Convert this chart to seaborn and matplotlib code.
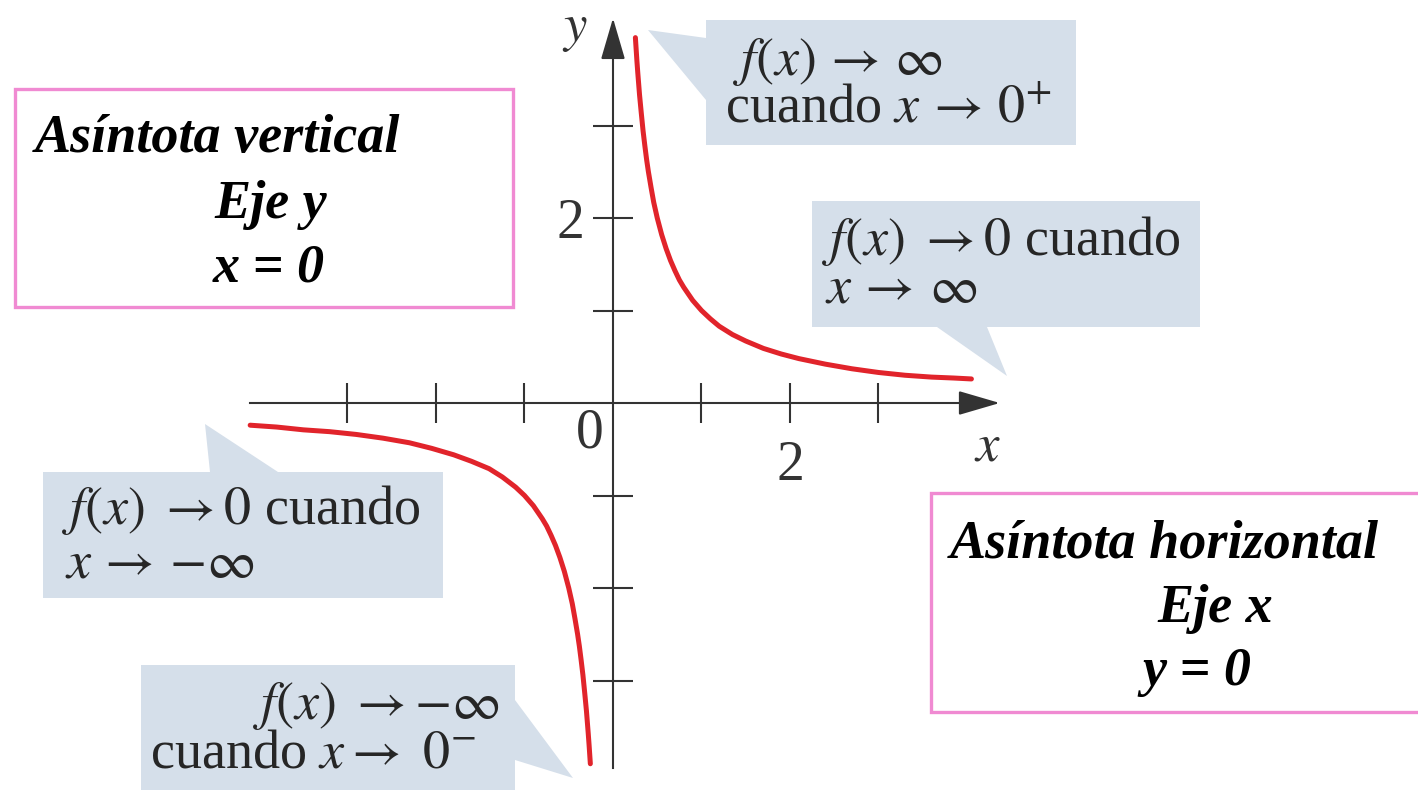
import matplotlib
matplotlib.use("Agg")
import matplotlib.pyplot as plt
import matplotlib.patches as mpatches
import matplotlib.transforms as mtransforms
import seaborn as sns

sns.set_theme(style="white")
plt.rcParams["font.family"] = ["Liberation Serif", "DejaVu Serif"]
plt.rcParams["mathtext.fontset"] = "stix"

# f(x) = 1/x
x_right = [0.253, 0.27, 0.28, 0.29, 0.30, 0.32, 0.34, 0.36, 0.38, 0.40, 0.43, 0.46,
           0.50, 0.55, 0.60, 0.65, 0.70, 0.75, 0.80, 0.90, 1.00, 1.10, 1.20, 1.35,
           1.50, 1.70, 1.90, 2.10, 2.40, 2.70, 3.00, 3.30, 3.60, 3.85, 4.05]
y_right = [3.95, 3.70, 3.57, 3.45, 3.33, 3.13, 2.94, 2.78, 2.63, 2.50, 2.33, 2.17,
           2.00, 1.82, 1.67, 1.54, 1.43, 1.33, 1.25, 1.11, 1.00, 0.91, 0.83, 0.74,
           0.67, 0.59, 0.53, 0.48, 0.42, 0.37, 0.33, 0.30, 0.28, 0.27, 0.26]
x_left = [-4.10, -3.80, -3.50, -3.20, -2.90, -2.60, -2.30, -2.05, -1.80, -1.60,
          -1.40, -1.25, -1.10, -1.00, -0.90, -0.80, -0.75, -0.70, -0.65, -0.60,
          -0.55, -0.50, -0.46, -0.43, -0.40, -0.38, -0.36, -0.34, -0.32, -0.30,
          -0.29, -0.28, -0.27, -0.256]
y_left = [-0.24, -0.26, -0.29, -0.31, -0.34, -0.38, -0.43, -0.49, -0.56, -0.63,
          -0.71, -0.80, -0.91, -1.00, -1.11, -1.25, -1.33, -1.43, -1.54, -1.67,
          -1.82, -2.00, -2.17, -2.33, -2.50, -2.63, -2.78, -2.94, -3.13, -3.33,
          -3.45, -3.57, -3.70, -3.90]

ticks = [-3, -2, -1, 1, 2, 3]
tick_labels = ["", "", "", "", "2", ""]

W, H = 1418, 790
fig = plt.figure(figsize=(W / 100, H / 100), dpi=100)
ax = fig.add_axes([0, 0, 1, 1])

# pixel -> data mapping: origin at (613, 403), 88.5 px per x unit, 92.5 px per y unit
ox, oy, ux, uy = 613, 403, 88.5, 92.5
ax.set_xlim(-ox / ux, (W - ox) / ux)
ax.set_ylim(-(H - oy) / uy, oy / uy)

red = "#e1242b"
sns.lineplot(x=x_right, y=y_right, sort=False, estimator=None, color=red, lw=3.6, ax=ax)
sns.lineplot(x=x_left, y=y_left, sort=False, estimator=None, color=red, lw=3.6, ax=ax)

# axes through the origin
axc = "#333333"
for side in ["top", "right"]:
    ax.spines[side].set_visible(False)
ax.spines["bottom"].set_position(("data", 0))
ax.spines["left"].set_position(("data", 0))
ax.spines["bottom"].set_bounds(-4.1, 4.2)
ax.spines["left"].set_bounds(-3.95, 4.0)
for side in ["bottom", "left"]:
    ax.spines[side].set_color(axc)
    ax.spines[side].set_linewidth(1.5)
ax.set_xticks(ticks, labels=tick_labels)
ax.set_yticks(ticks, labels=tick_labels)
ax.tick_params(bottom=True, left=True, direction="inout", length=29, width=1.5,
               color=axc, labelsize=40, labelcolor=axc)
ax.tick_params(axis="x", pad=12)
ax.tick_params(axis="y", pad=6)
ax.set_xlabel("")
ax.set_ylabel("")

arrow = dict(arrowstyle="-|>,head_length=1.3,head_width=0.38", color=axc, lw=1.5,
             shrinkA=0, shrinkB=0, mutation_scale=20)
ax.annotate("", xy=(4.37, 0), xytext=(4.0, 0), arrowprops=arrow)
ax.annotate("", xy=(0, 4.16), xytext=(0, 3.8), arrowprops=arrow)

ax.text(-0.26, -0.33, "0", fontsize=40, color=axc, ha="center", va="center")
ax.text(-0.43, 4.03, "$y$", fontsize=38, color=axc, ha="center", va="center")
ax.text(4.23, -0.48, "$x$", fontsize=38, color=axc, ha="center", va="center")

# everything below is placed in picture pixels (y downwards)
px = mtransforms.Affine2D().scale(1 / W, -1 / H).translate(0, 1) + fig.transFigure

fill = "#d5dfea"
callouts = [
    # box (x0, y0, x1, y1), pointer triangle
    ((706, 20, 1076, 145), [(706, 38), (706, 100), (648, 30)]),
    ((812, 201, 1200, 327), [(937, 327), (987, 327), (1007, 376)]),
    ((43, 472, 443, 598), [(210, 472), (278, 472), (205, 424)]),
    ((141, 665, 515, 795), [(515, 700), (515, 760), (573, 778)]),
]
for (x0, y0, x1, y1), tri in callouts:
    fig.patches.append(mpatches.Rectangle((x0, y0), x1 - x0, y1 - y0, transform=px,
                                          facecolor=fill, edgecolor="none", zorder=0))
    fig.patches.append(mpatches.Polygon(tri, closed=True, transform=px,
                                        facecolor=fill, edgecolor="none", zorder=0))

tc = "#262626"
lines = [
    (733, 75, r"$f(x)\,\rightarrow\,\infty$", "left"),
    (725, 122, r"cuando $x\,\rightarrow\,0^{+}$", "left"),
    (822, 255, r"$f(x)\ \rightarrow 0$ cuando", "left"),
    (825, 302, r"$x\,\rightarrow\,\infty$", "left"),
    (62, 524, r"$f(x)\ \rightarrow 0$ cuando", "left"),
    (65, 577, r"$x\,\rightarrow\,{-}\infty$", "left"),
    (500, 719, r"$f(x)\ \rightarrow{-}\infty$", "right"),
    (150, 768, r"cuando $x \rightarrow\ 0^{-}$", "left"),
]
for x, y, s, ha in lines:
    fig.text(x / W, 1 - y / H, s, fontsize=39, color=tc, ha=ha, va="baseline")

pink = "#f08ad2"
for x0, y0, x1, y1 in [(15, 89, 513, 307), (931, 493, 1425, 712)]:
    fig.patches.append(mpatches.Rectangle((x0, y0), x1 - x0, y1 - y0, transform=px,
                                          facecolor="white", edgecolor=pink, lw=2.4,
                                          zorder=0))

titles = [
    (35, 152, "Asíntota vertical", "left"),
    (271, 218, "Eje y", "center"),
    (269, 282, "x = 0", "center"),
    (950, 558, "Asíntota horizontal", "left"),
    (1215, 622, "Eje x", "center"),
    (1197, 685, "y = 0", "center"),
]
for x, y, s, ha in titles:
    fig.text(x / W, 1 - y / H, s, fontsize=39, color="black", ha=ha, va="baseline",
             fontweight="bold", fontstyle="italic")

fig.savefig("out.png", dpi=100)
